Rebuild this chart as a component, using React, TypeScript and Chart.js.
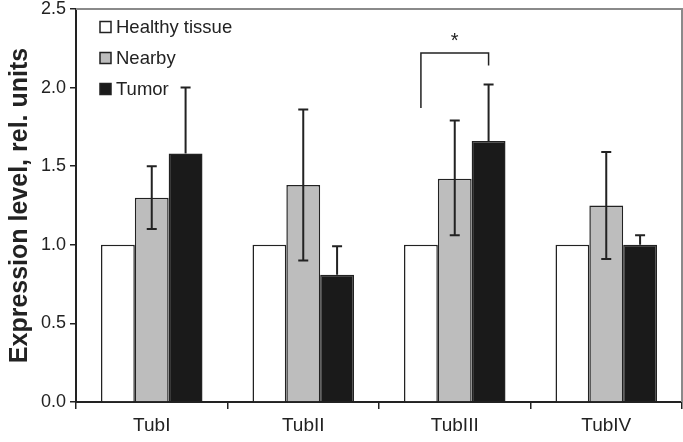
import React, { useEffect, useRef } from "react";
import { Chart, registerables } from "chart.js";

Chart.register(...registerables);

const categories = ["TubI", "TubII", "TubIII", "TubIV"];
const seriesNames = ["Healthy tissue", "Nearby", "Tumor"];
const healthy = [1.0, 1.0, 1.0, 1.0];
const nearby = [1.3, 1.38, 1.42, 1.25];
const tumor = [1.58, 0.81, 1.66, 1.0];
const nearbyErrLow = [1.1, 0.9, 1.06, 0.91];
const nearbyErrHigh = [1.5, 1.86, 1.79, 1.59];
const tumorErrHigh = [2.0, 0.99, 2.02, 1.06];
const yTickStep = 0.5;
const yMin = 0;
const yMax = 2.5;
const yTitle = "Expression level, rel. units";
// significance bracket over TubIII, from Healthy bar to Tumor bar
const bracketCategory = 2;
const bracketLeftValue = 1.87;
const bracketRightValue = 2.14;
const bracketTopValue = 2.22;
const bracketLabel = "*";

const fills = ["#ffffff", "#bdbdbd", "#1a1a1a"];
const FONT = "'Liberation Sans', Arial, Helvetica, sans-serif";
const INK = "#222222";

const overlayPlugin = {
  id: "overlay",
  afterDatasetsDraw(chart: any) {
    const ctx = chart.ctx;
    const y = chart.scales.y;
    const area = chart.chartArea;
    ctx.save();

    // frame (top/right gray)
    ctx.strokeStyle = "#8a8a8a";
    ctx.lineWidth = 2;
    ctx.beginPath();
    ctx.moveTo(area.left, area.top);
    ctx.lineTo(area.right, area.top);
    ctx.lineTo(area.right, area.bottom);
    ctx.stroke();

    // error bars
    const drawErr = (x: number, lo: number, hi: number, lowCap: boolean) => {
      const yl = y.getPixelForValue(lo);
      const yh = y.getPixelForValue(hi);
      ctx.strokeStyle = INK;
      ctx.lineWidth = 2;
      ctx.beginPath();
      ctx.moveTo(x, yl);
      ctx.lineTo(x, yh);
      ctx.moveTo(x - 5, yh);
      ctx.lineTo(x + 5, yh);
      if (lowCap) {
        ctx.moveTo(x - 5, yl);
        ctx.lineTo(x + 5, yl);
      }
      ctx.stroke();
    };
    const m1 = chart.getDatasetMeta(1);
    const m2 = chart.getDatasetMeta(2);
    m1.data.forEach((bar: any, i: number) => drawErr(bar.x, nearbyErrLow[i], nearbyErrHigh[i], true));
    m2.data.forEach((bar: any, i: number) => drawErr(bar.x, tumor[i], tumorErrHigh[i], false));

    // significance bracket
    const m0 = chart.getDatasetMeta(0);
    const xl = m0.data[bracketCategory].x;
    const xr = m2.data[bracketCategory].x;
    const yt = y.getPixelForValue(bracketTopValue);
    ctx.strokeStyle = INK;
    ctx.lineWidth = 1.5;
    ctx.beginPath();
    ctx.moveTo(xl, y.getPixelForValue(bracketLeftValue));
    ctx.lineTo(xl, yt);
    ctx.lineTo(xr, yt);
    ctx.lineTo(xr, y.getPixelForValue(bracketRightValue));
    ctx.stroke();
    ctx.fillStyle = INK;
    ctx.font = `20px ${FONT}`;
    ctx.textAlign = "center";
    ctx.textBaseline = "middle";
    ctx.fillText(bracketLabel, (xl + xr) / 2, yt - 12);

    // legend
    ctx.textAlign = "left";
    ctx.font = `18.5px ${FONT}`;
    seriesNames.forEach((name, i) => {
      const cy = area.top + 18 + i * 31;
      const sx = area.left + 24;
      ctx.fillStyle = fills[i];
      ctx.fillRect(sx, cy - 5.5, 11, 11);
      ctx.strokeStyle = INK;
      ctx.lineWidth = 1.5;
      ctx.strokeRect(sx, cy - 5.5, 11, 11);
      ctx.fillStyle = INK;
      ctx.fillText(name, sx + 16, cy + 1);
    });

    ctx.restore();
  },
};

export default function App() {
  const ref = useRef<HTMLCanvasElement | null>(null);
  useEffect(() => {
    document.body.style.margin = "0";
    if (!ref.current) return;
    const values = [healthy, nearby, tumor];
    const chart = new Chart(ref.current, {
      type: "bar",
      data: {
        labels: categories,
        datasets: seriesNames.map((name, i) => ({
          label: name,
          data: values[i],
          backgroundColor: fills[i],
          borderColor: INK,
          borderWidth: 1.5,
          barPercentage: 1,
          categoryPercentage: 0.67,
        })),
      },
      options: {
        animation: false,
        responsive: false,
        maintainAspectRatio: false,
        layout: { padding: { top: 9, right: 1, left: 0, bottom: 0 } },
        plugins: { legend: { display: false }, tooltip: { enabled: false } },
        scales: {
          x: {
            offset: true,
            grid: { offset: true, drawOnChartArea: false, tickLength: 7, color: INK, lineWidth: 1.5 },
            border: { color: INK, width: 2 },
            ticks: { color: INK, font: { size: 19, family: FONT }, padding: 5 },
            afterFit: (s: any) => {
              s.height = 40;
              s.paddingLeft = 0;
              s.paddingRight = 0;
            },
          },
          y: {
            min: yMin,
            max: yMax,
            grid: { drawOnChartArea: false, tickLength: 6, color: INK, lineWidth: 1.5 },
            border: { color: INK, width: 2 },
            ticks: {
              stepSize: yTickStep,
              color: INK,
              font: { size: 18, family: FONT },
              padding: 4,
              callback: (v: any) => Number(v).toFixed(1),
            },
            title: {
              display: true,
              text: yTitle,
              color: INK,
              font: { size: 25, weight: "bold", family: FONT },
              padding: { top: 5, bottom: 0 },
            },
            afterFit: (s: any) => {
              s.width = 76;
              s.paddingTop = 0;
              s.paddingBottom = 0;
            },
          },
        },
      },
      plugins: [overlayPlugin],
    });
    return () => chart.destroy();
  }, []);
  return (
    <div style={{ width: 683, height: 442 }}>
      <canvas ref={ref} width={683} height={442} />
    </div>
  );
}
